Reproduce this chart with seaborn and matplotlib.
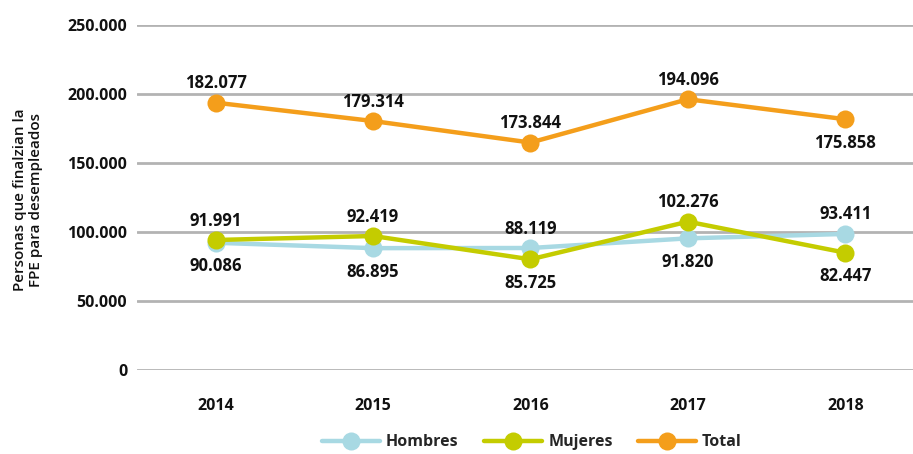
import matplotlib
matplotlib.use("Agg")
import matplotlib.pyplot as plt
import pandas as pd
import seaborn as sns

# values (marker heights) and the printed labels
years = [2014, 2015, 2016, 2017, 2018]
hombres = [92200, 88300, 88400, 95400, 98600]
mujeres = [94200, 97100, 80200, 107500, 85000]
total = [193700, 180400, 164800, 196200, 181700]

hombres_labels = ["90.086", "86.895", "88.119", "91.820", "93.411"]
mujeres_labels = ["91.991", "92.419", "85.725", "102.276", "82.447"]
total_labels = ["182.077", "179.314", "173.844", "194.096", "175.858"]

# where each label sits relative to its marker
hombres_side = ["below", "below", "above", "below", "above"]
mujeres_side = ["above", "above", "below", "above", "below"]
total_side = ["above", "above", "above", "above", "below"]

series = ["Hombres", "Mujeres", "Total"]
colors = {"Hombres": "#a8d9e3", "Mujeres": "#c4cc00", "Total": "#f49e1b"}
y_ticks = [0, 50000, 100000, 150000, 200000, 250000]
y_tick_labels = ["0", "50.000", "100.000", "150.000", "200.000", "250.000"]

sns.set_style("white")
plt.rcParams["font.family"] = ["Open Sans", "DejaVu Sans"]

df = pd.DataFrame({
    "Año": years * 3,
    "Personas": hombres + mujeres + total,
    "Serie": ["Hombres"] * 5 + ["Mujeres"] * 5 + ["Total"] * 5,
})

fig = plt.figure(figsize=(9.13, 4.54), dpi=100)
ax = fig.add_axes([0.150, 0.185, 0.850, 0.760])

for y in y_ticks:
    ax.axhline(y, color="#b3b3b3", lw=2, zorder=0)

sns.lineplot(data=df, x="Año", y="Personas", hue="Serie", hue_order=series,
             palette=colors, marker="o", markersize=13, markeredgewidth=0,
             linewidth=3.2, ax=ax, legend=False)

def add_labels(vals, labels, sides):
    for x, v, lab, side in zip(years, vals, labels, sides):
        dy = 14 if side == "above" else -17
        ax.annotate(lab, (x, v), xytext=(0, dy), textcoords="offset points",
                    ha="center", va="center", fontsize=12,
                    fontweight="bold", color="#111111")

add_labels(hombres, hombres_labels, hombres_side)
add_labels(mujeres, mujeres_labels, mujeres_side)
add_labels(total, total_labels, total_side)

ax.set_ylim(0, 250000)
ax.set_xlim(2013.5, 2018.43)
ax.set_yticks(y_ticks)
ax.set_yticklabels(y_tick_labels)
ax.set_xticks(years)
ax.set_xticklabels([str(y) for y in years])
ax.tick_params(axis="both", length=0, labelsize=11.5, colors="#111111")
ax.tick_params(axis="x", pad=20)
ax.tick_params(axis="y", pad=7)
for lab in ax.get_xticklabels() + ax.get_yticklabels():
    lab.set_fontweight("bold")
ax.set_xlabel("")
ax.set_ylabel("")
sns.despine(ax=ax, left=True, bottom=True)

fig.text(28 / 913, 1 - 200 / 454, "Personas que finalzian la\nFPE para desempleados",
         rotation=90, ha="center", va="center", fontsize=11,
         fontweight="semibold", color="#111111", linespacing=1.15)

handles = [plt.Line2D([], [], color=colors[s], lw=3.2, marker="o", markersize=13,
                      markeredgewidth=0) for s in series]
leg = fig.legend(handles, series, loc="center", bbox_to_anchor=(532 / 913, 0.026),
                 ncol=3, frameon=False, fontsize=11.5, handlelength=3.6,
                 handletextpad=0.4, columnspacing=1.6)
for t in leg.get_texts():
    t.set_fontweight("bold")

fig.savefig("out.png", dpi=100)
